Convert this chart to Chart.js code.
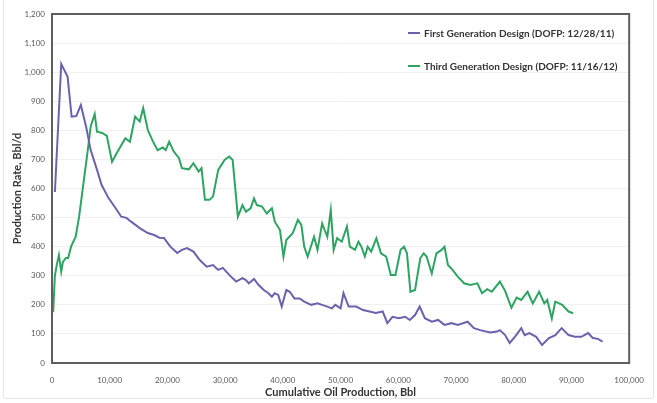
<!DOCTYPE html>
<html lang="en">

<head>
    <meta charset="UTF-8">
    <title>Production Rate vs Cumulative Oil</title>
    <style>
        body {
            margin: 0;
            background: #fff;
            font-family: Lato, sans-serif;
        }

        .wrap {
            position: relative;
            width: 657px;
            height: 403px;
        }

        .frame {
            position: absolute;
            left: 3px;
            right: 3px;
            top: -2px;
            bottom: 4px;
            border: 1px solid #e4e4e4;
            border-radius: 3px;
            pointer-events: none;
        }

        .legend {
            position: absolute;
            left: 408px;
            top: 0;
            font-weight: bold;
            font-size: 10px;
            color: #333;
        }

        .legend .item {
            position: absolute;
            left: 0;
            white-space: nowrap;
            display: flex;
            align-items: center;
            height: 14px;
        }

        .legend .swatch {
            width: 12px;
            height: 2px;
            margin-right: 4px;
        }
    </style>
</head>

<body>

    <div class="wrap">
        <canvas id="rateChart" width="657" height="403"></canvas>
        <div class="frame"></div>
        <div class="legend" id="legend"></div>
    </div>

    <script src="https://cdn.jsdelivr.net/npm/chart.js"></script>
    <script>
        // cumulative oil (Bbl) vs rate (Bbl/d)
        const firstGenLabel = 'First Generation Design (DOFP: 12/28/11)';
        const firstGenX = [500, 1600, 2700, 3400, 4200, 5000, 5900, 6700, 7800, 8600, 9800, 11000, 12000, 12900, 13700,
            15200, 16600, 17700, 18600, 19400, 20500, 21700, 22500, 23400, 24500, 25600, 26800, 27900, 28800, 29600,
            30700, 31900, 33000, 33600, 34100, 35000, 35800, 36700, 37500, 38100, 38600, 39200, 39800, 40600, 41200,
            42000, 42900, 43700, 44900, 46000, 46800, 47700, 48500, 49100, 50000, 50500, 51400, 52700, 53900, 55000,
            56100, 57300, 58100, 59000, 60100, 61200, 62000, 62900, 63700, 64600, 65800, 66900, 68000, 69200, 70300,
            72000, 73100, 74200, 75900, 77100, 77600, 78500, 79300, 80200, 81300, 81900, 82700, 83900, 84900, 86100,
            87200, 88300, 89500, 90600, 91700, 92900, 93700, 94600, 95400];
        const firstGenY = [588, 1028, 985, 847, 849, 887, 813, 732, 664, 612, 567, 533, 503, 499, 486,
            464, 447, 440, 431, 430, 400, 378, 389, 395, 383, 354, 331, 337, 320, 327,
            303, 280, 292, 285, 274, 289, 268, 251, 240, 228, 240, 234, 194, 251, 245,
            222, 222, 211, 200, 205, 200, 194, 188, 200, 188, 240, 194, 194, 182, 177,
            172, 177, 137, 159, 154, 159, 148, 165, 194, 154, 142, 148, 131, 137, 131,
            142, 120, 113, 105, 108, 113, 96, 69, 90, 120, 96, 103, 90, 62, 86,
            96, 120, 96, 90, 90, 103, 86, 83, 73];

        const thirdGenLabel = 'Third Generation Design (DOFP: 11/16/12)';
        const thirdGenX = [200, 500, 850, 1200, 1600, 1900, 2400, 2800, 3300, 4100, 4700, 5300, 6200, 6700, 7400,
            7800, 8700, 9500, 10400, 11200, 12700, 13500, 14400, 15200, 15800, 16600, 17500, 18300, 19200, 19700,
            20300, 21100, 22000, 22500, 23700, 24500, 25400, 25900, 26500, 27300, 27900, 28800, 29900, 30700, 31300,
            32200, 33000, 33600, 34400, 35000, 35500, 36400, 37200, 38100, 38600, 39500, 40100, 40600, 41700, 42600,
            43200, 43700, 44300, 45400, 46000, 46800, 47700, 48300, 48800, 49400, 50200, 51100, 51600, 52500, 53100,
            53600, 54200, 54700, 55300, 56200, 57000, 57900, 58700, 59500, 60400, 61000, 61500, 62100, 62900, 63800,
            64400, 64900, 65800, 66600, 67500, 68000, 68600, 69400, 70300, 71400, 72500, 73700, 74500, 75400, 76200,
            77600, 78500, 79600, 80500, 81300, 82400, 83300, 84400, 85300, 85800, 86600, 87200, 88400, 89500, 90300];
        const thirdGenY = [175, 300, 340, 371, 314, 348, 361, 361, 400, 434, 503, 595, 732, 813, 856,
            795, 791, 781, 692, 721, 773, 761, 847, 830, 876, 801, 761, 732, 741, 732,
            761, 727, 704, 670, 666, 687, 658, 670, 561, 561, 573, 664, 698, 710, 698,
            503, 543, 520, 532, 566, 543, 538, 514, 532, 486, 457, 366, 423, 446, 492,
            475, 400, 366, 434, 389, 480, 434, 526, 389, 429, 417, 469, 400, 389, 417,
            400, 366, 400, 383, 429, 377, 366, 303, 303, 389, 400, 377, 245, 251, 360,
            377, 366, 308, 377, 389, 400, 337, 320, 297, 274, 268, 274, 240, 254, 245,
            280, 248, 190, 225, 217, 245, 205, 245, 205, 217, 153, 211, 200, 177, 171];

        const xTicks = [0, 100000, 10000];   // min, max, step
        const yTicks = [0, 1200, 100];

        const purple = '#6a62ad';
        const green = '#2ea462';

        const toPoints = (xs, ys) => xs.map((x, i) => ({ x: x, y: ys[i] }));

        // plot frame around the chart area
        const framePlugin = {
            id: 'frame',
            afterDatasetsDraw(chart) {
                const a = chart.chartArea;
                const c = chart.ctx;
                c.save();
                c.strokeStyle = '#5f5f5f';
                c.lineWidth = 2;
                c.strokeRect(a.left, a.top, a.right - a.left, a.bottom - a.top);
                c.restore();
            }
        };

        const ctx = document.getElementById('rateChart').getContext('2d');
        const rateChart = new Chart(ctx, {
            type: 'scatter',
            data: {
                datasets: [{
                    label: firstGenLabel,
                    data: toPoints(firstGenX, firstGenY),
                    showLine: true,
                    borderColor: purple,
                    borderWidth: 2,
                    pointRadius: 0,
                    tension: 0
                }, {
                    label: thirdGenLabel,
                    data: toPoints(thirdGenX, thirdGenY),
                    showLine: true,
                    borderColor: green,
                    borderWidth: 2,
                    pointRadius: 0,
                    tension: 0
                }]
            },
            options: {
                responsive: false,
                animation: false,
                layout: {
                    padding: { top: 14, right: 13, left: 0, bottom: 0 }
                },
                scales: {
                    x: {
                        type: 'linear',
                        min: xTicks[0],
                        max: xTicks[1],
                        afterFit: s => { s.height = 40; },
                        grid: { display: false, drawTicks: false },
                        border: { display: false },
                        ticks: {
                            stepSize: xTicks[2],
                            padding: 13,
                            color: '#5a5a5a',
                            font: { family: 'Lato', size: 8 }
                        },
                        title: {
                            display: true,
                            text: 'Cumulative Oil Production, Bbl',
                            color: '#333',
                            padding: { top: 0, bottom: 4 },
                            font: { family: 'Lato', size: 11, weight: 'bold' }
                        }
                    },
                    y: {
                        min: yTicks[0],
                        max: yTicks[1],
                        afterFit: s => { s.width = 52; },
                        grid: { color: '#f0f0f0', drawTicks: false },
                        border: { display: false },
                        ticks: {
                            stepSize: yTicks[2],
                            padding: 7,
                            color: '#5a5a5a',
                            font: { family: 'Lato', size: 8 }
                        },
                        title: {
                            display: true,
                            text: 'Production Rate, Bbl/d',
                            color: '#333',
                            padding: { top: 11, bottom: 0 },
                            font: { family: 'Lato', size: 11, weight: 'bold' }
                        }
                    }
                },
                plugins: {
                    legend: { display: false },
                    tooltip: { enabled: false }
                }
            },
            plugins: [framePlugin]
        });

        // legend inside the plot, top right
        const legendEl = document.getElementById('legend');
        const legendTops = [26, 59];
        rateChart.data.datasets.forEach((ds, i) => {
            const item = document.createElement('div');
            item.className = 'item';
            item.style.top = legendTops[i] + 'px';
            const sw = document.createElement('span');
            sw.className = 'swatch';
            sw.style.background = ds.borderColor;
            const txt = document.createElement('span');
            txt.textContent = ds.label;
            item.appendChild(sw);
            item.appendChild(txt);
            legendEl.appendChild(item);
        });
    </script>
</body>

</html>
